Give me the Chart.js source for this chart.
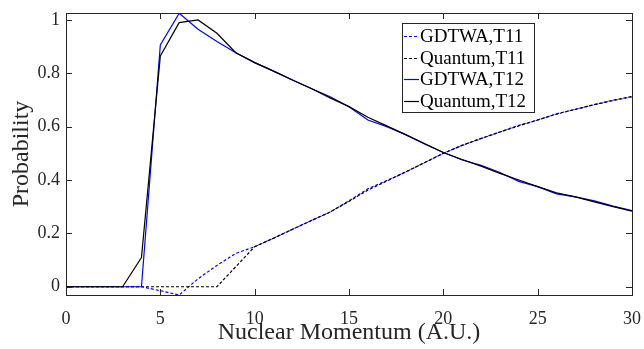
<!DOCTYPE html>
<html>
<head>
<meta charset="utf-8">
<script src="https://cdn.jsdelivr.net/npm/chart.js@4.4.0/dist/chart.umd.min.js"></script>
<style>
html, body { margin: 0; padding: 0; background: #fff; }
</style>
</head>
<body>
<canvas id="prob-chart" width="644" height="349"></canvas>
<script>
// x values (nuclear momentum, A.U.)
const momentum = [0,1,2,3,4,5,6,7,8,9,10,11,12,13,14,15,16,17,18,19,20,21,22,23,24,25,26,27,28,29,30];

// probabilities
const gdtwaT11 = [0,0,0,0,0,-0.015,-0.031,0.03,0.08,0.125,0.15,0.182,0.215,0.248,0.28,0.322,0.367,0.398,0.43,0.465,0.5,0.53,0.555,0.58,0.605,0.625,0.648,0.665,0.682,0.698,0.712];
const quantumT11 = [0,0,0,0,0,0,0,0,0,0.075,0.15,0.182,0.215,0.248,0.28,0.32,0.362,0.396,0.43,0.465,0.5,0.53,0.556,0.58,0.603,0.625,0.647,0.665,0.683,0.699,0.713];
const gdtwaT12 = [0,0,0,0,0,0.906,1.025,0.965,0.919,0.877,0.84,0.808,0.775,0.743,0.712,0.675,0.625,0.6,0.57,0.535,0.503,0.475,0.455,0.428,0.395,0.375,0.348,0.337,0.322,0.302,0.285];
const quantumT12 = [0,0,0,0,0.109,0.865,0.99,1.0,0.95,0.877,0.84,0.808,0.775,0.743,0.708,0.675,0.635,0.603,0.57,0.537,0.503,0.477,0.452,0.425,0.4,0.375,0.352,0.337,0.318,0.3,0.283];

const seriesLabels = ["GDTWA,T11", "Quantum,T11", "GDTWA,T12", "Quantum,T12"];

// ticks
const xTickValues = [0, 5, 10, 15, 20, 25, 30];
const yTickValues = [0, 0.2, 0.4, 0.6, 0.8, 1];
const yTickLabels = ["0", "0.2", "0.4", "0.6", "0.8", "1"];

const serif = "'Liberation Serif', 'Times New Roman', serif";

function toPoints(ys) {
    return momentum.map((x, i) => ({x: x, y: ys[i]}));
}

// box round the plot area with ticks pointing inwards (matlab look)
const boxTicks = {
    id: 'boxTicks',
    afterDraw(chart) {
        const ctx = chart.ctx;
        const a = chart.chartArea;
        const xs = chart.scales.x;
        const ys = chart.scales.y;
        const len = 6;
        ctx.save();
        ctx.strokeStyle = '#262626';
        ctx.lineWidth = 1;
        ctx.beginPath();
        xs.ticks.forEach(t => {
            const px = Math.round(xs.getPixelForValue(t.value)) + 0.5;
            ctx.moveTo(px, a.bottom); ctx.lineTo(px, a.bottom - len);
            ctx.moveTo(px, a.top); ctx.lineTo(px, a.top + len);
        });
        ys.ticks.forEach(t => {
            const py = Math.round(ys.getPixelForValue(t.value)) + 0.5;
            ctx.moveTo(a.left, py); ctx.lineTo(a.left + len, py);
            ctx.moveTo(a.right, py); ctx.lineTo(a.right - len, py);
        });
        ctx.stroke();
        ctx.strokeRect(Math.round(a.left) + 0.5, Math.round(a.top) + 0.5,
            Math.round(a.right - a.left), Math.round(a.bottom - a.top));
        ctx.restore();
    }
};

// legend drawn inside the axes, top right
const insideLegend = {
    id: 'insideLegend',
    afterDraw(chart) {
        const ctx = chart.ctx;
        const bx = 402, by = 23, bw = 132, bh = 89;
        const rowH = 21.5;
        ctx.save();
        ctx.fillStyle = '#fff';
        ctx.fillRect(bx, by, bw, bh);
        ctx.strokeStyle = '#262626';
        ctx.lineWidth = 1;
        ctx.strokeRect(bx + 0.5, by + 0.5, bw, bh);
        ctx.font = "19px " + serif;
        ctx.textBaseline = 'middle';
        chart.data.datasets.forEach((ds, i) => {
            const cy = Math.round(by + 13 + i * rowH) + 0.5;
            ctx.strokeStyle = ds.borderColor;
            ctx.lineWidth = ds.borderWidth;
            ctx.setLineDash(ds.borderDash || []);
            ctx.beginPath();
            ctx.moveTo(bx + 2, cy);
            ctx.lineTo(bx + 17, cy);
            ctx.stroke();
            ctx.setLineDash([]);
            ctx.fillStyle = '#000';
            ctx.fillText(ds.label, bx + 18, cy + 1);
        });
        ctx.restore();
    }
};

const probContext = document.querySelector('#prob-chart').getContext('2d');

const probChart = new Chart(probContext, {
    type: 'line',
    data: {
        datasets: [{
            label: seriesLabels[0],
            data: toPoints(gdtwaT11),
            borderColor: '#0000ff',
            borderWidth: 1.2,
            borderDash: [3, 2],
            order: 3
        }, {
            label: seriesLabels[1],
            data: toPoints(quantumT11),
            borderColor: '#000000',
            borderWidth: 1.2,
            borderDash: [3, 2],
            order: 2
        }, {
            label: seriesLabels[2],
            data: toPoints(gdtwaT12),
            borderColor: '#0000ff',
            borderWidth: 1.2,
            order: 1
        }, {
            label: seriesLabels[3],
            data: toPoints(quantumT12),
            borderColor: '#000000',
            borderWidth: 1.2,
            order: 0
        }]
    },
    options: {
        responsive: false,
        animation: false,
        elements: {
            point: { radius: 0 },
            line: { tension: 0, fill: false }
        },
        layout: {
            padding: { left: 0, right: 12, top: 13, bottom: 0 }
        },
        plugins: {
            legend: { display: false },
            tooltip: { enabled: false }
        },
        scales: {
            x: {
                type: 'linear',
                min: 0,
                max: 30,
                grid: { display: false, drawTicks: false },
                border: { display: false },
                afterBuildTicks: scale => {
                    scale.ticks = xTickValues.map(v => ({value: v}));
                },
                afterFit: scale => {
                    scale.height = 54;
                    scale.paddingLeft = 0;
                    scale.paddingRight = 0;
                },
                ticks: {
                    color: '#262626',
                    padding: 13,
                    maxRotation: 0,
                    font: { family: serif, size: 18 },
                    callback: v => String(v)
                },
                title: {
                    display: true,
                    text: 'Nuclear Momentum (A.U.)',
                    color: '#262626',
                    padding: { top: 0, bottom: 2 },
                    font: { family: serif, size: 24 }
                }
            },
            y: {
                type: 'linear',
                min: -0.031,
                max: 1.026,
                grid: { display: false, drawTicks: false },
                border: { display: false },
                afterBuildTicks: scale => {
                    scale.ticks = yTickValues.map(v => ({value: v}));
                },
                afterFit: scale => {
                    scale.width = 66;
                    scale.paddingTop = 0;
                    scale.paddingBottom = 0;
                },
                ticks: {
                    color: '#262626',
                    padding: 6,
                    font: { family: serif, size: 18 },
                    callback: (v, i) => yTickLabels[i]
                },
                title: {
                    display: true,
                    text: 'Probability',
                    color: '#262626',
                    padding: { top: 7, bottom: 0 },
                    font: { family: serif, size: 24 }
                }
            }
        }
    },
    plugins: [boxTicks, insideLegend]
});
</script>
</body>
</html>
